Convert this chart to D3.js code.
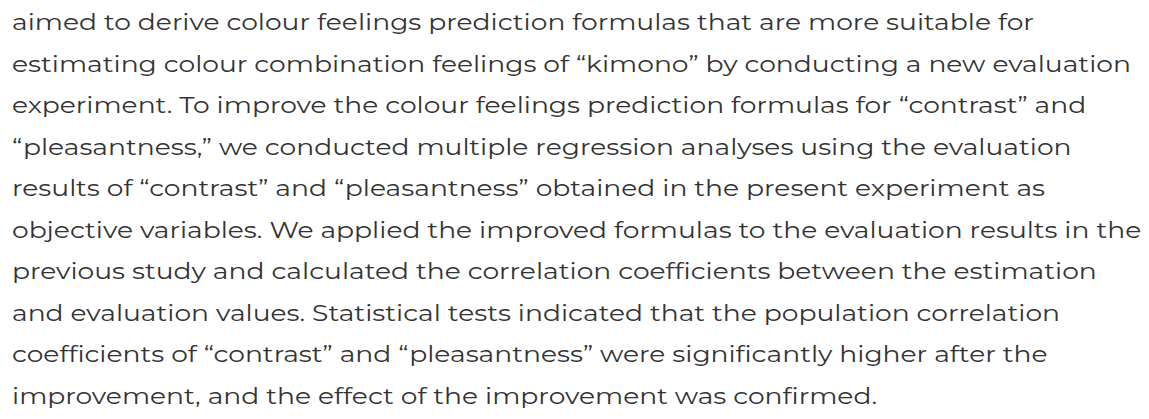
<!DOCTYPE html>
<html>
<head>
<meta charset="utf-8">
<script src="https://cdn.jsdelivr.net/npm/d3@7"></script>
<style>
  html, body { margin: 0; padding: 0; background: #fff; }
  svg { display: block; }
  .para { font-family: Montserrat, "Open Sans", sans-serif; font-size: 22px; fill: #333; }
</style>
</head>
<body>
<div id="chart"></div>
<script>
// Paragraph lines, as wrapped in the reference.
const lines = [
  "aimed to derive colour feelings prediction formulas that are more suitable for",
  "estimating colour combination feelings of \u201ckimono\u201d by conducting a new evaluation",
  "experiment. To improve the colour feelings prediction formulas for \u201ccontrast\u201d and",
  "\u201cpleasantness,\u201d we conducted multiple regression analyses using the evaluation",
  "results of \u201ccontrast\u201d and \u201cpleasantness\u201d obtained in the present experiment as",
  "objective variables. We applied the improved formulas to the evaluation results in the",
  "previous study and calculated the correlation coefficients between the estimation",
  "and evaluation values. Statistical tests indicated that the population correlation",
  "coefficients of \u201ccontrast\u201d and \u201cpleasantness\u201d were significantly higher after the",
  "improvement, and the effect of the improvement was confirmed."
];

const width = 1149, height = 419;
const left = 12, firstBase = 30, lastBase = 404;
const widest = 1142; // right edge of the longest line in the reference

const svg = d3.select("#chart").append("svg")
  .attr("width", width).attr("height", height)
  .attr("viewBox", `0 0 ${width} ${height}`);

const y = d3.scalePoint(d3.range(lines.length), [firstBase, lastBase]);

const g = svg.append("g").attr("class", "para");
const t = g.selectAll("text").data(lines).join("text")
  .attr("x", 0)
  .attr("y", (_, i) => y(i))
  .text((d) => d);

// Fallback font is narrower/wider than the original: stretch uniformly to match.
const maxW = d3.max(t.nodes(), (n) => n.getComputedTextLength());
const sx = (widest - left) / maxW;
g.attr("transform", `translate(${left},0) scale(${sx},1)`);
</script>
</body>
</html>
